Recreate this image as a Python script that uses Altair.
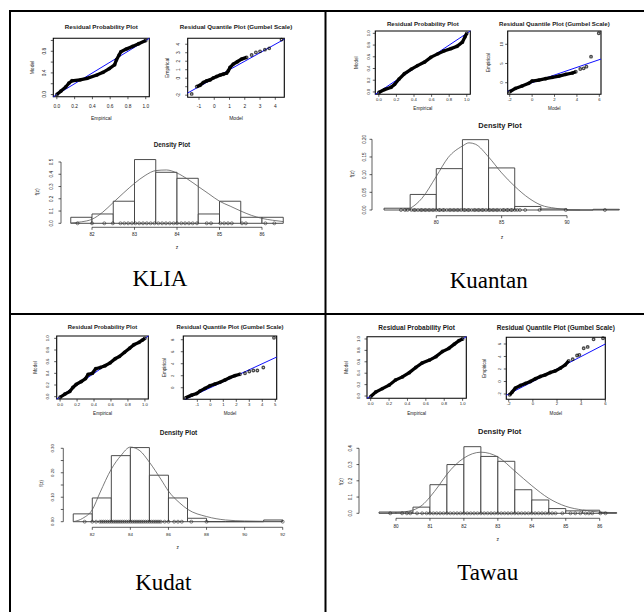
import altair as alt
import pandas as pd

# ======================= DATA =======================
# ---- KLIA ----
KLIA_PP_EMP = [0.0, 0.044, 0.10, 0.135, 0.17, 0.26, 0.34, 0.45, 0.52, 0.59, 0.65, 0.67, 0.70, 0.72, 0.78, 0.85, 0.92, 1.0]
KLIA_PP_MOD = [0.0, 0.06, 0.14, 0.21, 0.255, 0.27, 0.30, 0.36, 0.41, 0.48, 0.55, 0.64, 0.73, 0.79, 0.84, 0.89, 0.94, 1.0]
KLIA_QQ_MOD = [-1.15, -0.93, -0.72, -0.5, -0.28, -0.06, 0.16, 0.38, 0.59, 0.81, 0.92, 1.03, 1.25, 1.51, 1.79, 2.12]
KLIA_QQ_EMP = [-0.99, -0.83, -0.51, -0.32, -0.2, 0.04, 0.2, 0.36, 0.47, 0.59, 0.87, 1.26, 1.66, 1.94, 2.25, 2.45]
KLIA_QQ_ISO_MOD = [-1.48, 2.45, 2.73, 3.0, 3.32, 3.6, 4.41]
KLIA_QQ_ISO_EMP = [-1.85, 2.73, 3.04, 3.16, 3.36, 3.52, 4.55]
KLIA_BREAKS = [81.5, 82.0, 82.5, 83.0, 83.5, 84.0, 84.5, 85.0, 85.5, 86.0, 86.5]
KLIA_HIST = [0.049, 0.076, 0.18, 0.52, 0.416, 0.367, 0.076, 0.18, 0.049, 0.049]
KLIA_CURVE_Z = [81.5, 81.75, 82.0, 82.25, 82.5, 82.75, 83.0, 83.25, 83.5, 83.75, 84.0, 84.25, 84.5, 84.75, 85.0, 85.25, 85.5, 85.75, 86.0, 86.25, 86.5]
KLIA_CURVE_F = [0.003, 0.012, 0.033, 0.09, 0.17, 0.25, 0.326, 0.39, 0.43, 0.435, 0.41, 0.36, 0.30, 0.24, 0.18, 0.14, 0.10, 0.065, 0.04, 0.025, 0.014]
KLIA_RUG = [81.66, 82.0, 82.29, 82.49, 82.67, 82.76, 82.85, 82.94, 83.02, 83.11, 83.2, 83.29, 83.38, 83.47,
            83.56, 83.65, 83.74, 83.83, 83.92, 84.0, 84.1, 84.19, 84.28, 84.37, 84.47, 84.7, 84.8, 85.02,
            85.11, 85.2, 85.29, 85.53, 85.62, 86.08, 86.29]

# ---- Kuantan ----
KUANTAN_PP_EMP = [0.0, 0.064, 0.14, 0.18, 0.23, 0.29, 0.37, 0.44, 0.52, 0.59, 0.67, 0.74, 0.82, 0.89, 0.95, 0.98, 1.0]
KUANTAN_PP_MOD = [-0.01, 0.04, 0.08, 0.13, 0.22, 0.31, 0.39, 0.45, 0.51, 0.59, 0.65, 0.70, 0.74, 0.78, 0.85, 0.94, 1.0]
KUANTAN_QQ_MOD = [-2.0, -1.5, -0.9, -0.3, 0.0, 0.6, 1.2, 1.8, 2.4, 3.0, 3.6, 3.9]
KUANTAN_QQ_EMP = [-2.35, -1.48, -0.87, -0.17, 0.43, 0.7, 1.04, 1.39, 1.74, 2.17, 2.52, 2.87]
KUANTAN_QQ_ISO_MOD = [4.3, 4.6, 4.85, 5.26, 5.95]
KUANTAN_QQ_ISO_EMP = [3.57, 3.74, 4.17, 6.78, 12.87]
KUANTAN_BREAKS = [76, 78, 80, 82, 84, 86, 88, 90, 92, 94]
KUANTAN_HIST = [0.005, 0.044, 0.117, 0.199, 0.119, 0.010, 0.003, 0.0, 0.002]
KUANTAN_CURVE_Z = [77.6, 78.0, 78.9, 80.0, 80.9, 82.0, 82.5, 83.0, 84.0, 85.0, 86.0, 87.1, 88.0, 89.1, 90.0, 91.0]
KUANTAN_CURVE_F = [0.0, 0.005, 0.033, 0.095, 0.148, 0.181, 0.19, 0.186, 0.15, 0.105, 0.067, 0.033, 0.014, 0.005, 0.001, 0.0]
KUANTAN_RUG = [77.3, 77.6, 77.8, 78.1, 78.3, 78.4, 78.6, 78.8, 78.9, 79.1, 79.2, 79.4, 79.5, 79.7, 79.8, 80.0,
               80.2, 80.3, 80.5, 80.6, 80.8, 81.0, 81.1, 81.3, 81.4, 81.6, 81.7, 81.9, 82.1, 82.2, 82.4, 82.5,
               82.7, 82.9, 83.0, 83.2, 83.3, 83.5, 83.6, 83.8, 84.0, 84.1, 84.3, 84.4, 84.6, 84.7, 84.9, 85.1,
               85.2, 85.4, 85.5, 85.7, 85.8, 86.0, 86.2, 86.4, 86.8, 87.9, 89.9, 92.9]

# ---- Kudat ----
KUDAT_PP_EMP = [0.0, 0.057, 0.114, 0.15, 0.19, 0.25, 0.30, 0.33, 0.38, 0.42, 0.475, 0.53, 0.59, 0.65, 0.70, 0.76, 0.82, 0.87, 0.93, 0.97, 1.0]
KUDAT_PP_MOD = [-0.01, 0.045, 0.09, 0.157, 0.21, 0.26, 0.31, 0.38, 0.40, 0.48, 0.50, 0.53, 0.58, 0.65, 0.69, 0.76, 0.83, 0.89, 0.93, 0.97, 1.0]
KUDAT_QQ_MOD = [-1.9, -1.44, -1.05, -0.8, -0.41, -0.03, 0.36, 0.74, 1.13, 1.51, 1.9, 2.28]
KUDAT_QQ_EMP = [-1.69, -1.24, -0.96, -0.56, -0.11, 0.34, 0.62, 0.9, 1.29, 1.69, 2.02, 2.25]
KUDAT_QQ_ISO_MOD = [2.67, 3.0, 3.31, 3.62, 4.08, 4.9]
KUDAT_QQ_ISO_EMP = [2.42, 2.7, 2.87, 2.87, 3.37, 8.31]
KUDAT_BREAKS = [81, 82, 83, 84, 85, 86, 87, 88, 89, 90, 91, 92]
KUDAT_HIST = [0.032, 0.097, 0.27, 0.303, 0.19, 0.097, 0.014, 0.0, 0.0, 0.0, 0.007]
KUDAT_CURVE_Z = [81.0, 81.5, 82.0, 82.4, 83.0, 83.5, 84.0, 84.5, 85.0, 85.6, 86.0, 86.6, 87.0, 88.0, 89.0, 90.0, 92.0]
KUDAT_CURVE_F = [0.0, 0.014, 0.049, 0.118, 0.215, 0.27, 0.305, 0.29, 0.243, 0.174, 0.125, 0.076, 0.051, 0.021, 0.007, 0.003, 0.001]
KUDAT_RUG = [81.6, 82.0, 82.2, 82.4, 82.5, 82.6, 82.7, 82.8, 82.9, 83.0, 83.1, 83.2, 83.3, 83.4, 83.5, 83.6,
             83.7, 83.8, 83.9, 84.0, 84.1, 84.2, 84.3, 84.4, 84.5, 84.6, 84.7, 84.8, 84.9, 85.0, 85.1, 85.2,
             85.3, 85.4, 85.5, 85.6, 85.8, 86.0, 86.3, 86.5, 86.7, 87.2, 88.0, 92.0]

# ---- Tawau ----
TAWAU_PP_EMP = [0.0, 0.055, 0.127, 0.20, 0.27, 0.345, 0.42, 0.49, 0.56, 0.64, 0.71, 0.78, 0.85, 0.91, 0.96, 1.0]
TAWAU_PP_MOD = [-0.01, 0.07, 0.13, 0.19, 0.28, 0.335, 0.41, 0.50, 0.58, 0.63, 0.69, 0.78, 0.835, 0.91, 0.97, 1.0]
TAWAU_QQ_MOD = [-1.92, -1.72, -1.45, -1.03, -0.62, -0.21, 0.21, 0.62, 1.03, 1.45, 1.86, 2.28, 2.69, 2.97]
TAWAU_QQ_EMP = [-2.13, -1.7, -1.06, -0.64, -0.32, 0.0, 0.43, 0.8, 1.06, 1.44, 1.7, 2.13, 2.66, 3.3]
TAWAU_QQ_ISO_MOD = [3.3, 3.66, 3.85, 4.21, 4.54, 5.03, 5.81]
TAWAU_QQ_ISO_EMP = [3.56, 4.15, 4.26, 5.32, 5.53, 6.76, 6.91]
TAWAU_BREAKS = [79.5, 80.0, 80.5, 81.0, 81.5, 82.0, 82.5, 83.0, 83.5, 84.0, 84.5, 85.0, 85.5, 86.0, 86.5]
TAWAU_HIST = [0.008, 0.008, 0.038, 0.176, 0.30, 0.41, 0.35, 0.32, 0.145, 0.082, 0.029, 0.015, 0.019, 0.004]
TAWAU_CURVE_Z = [79.5, 80.0, 80.5, 80.77, 81.0, 81.26, 81.5, 82.0, 82.5, 83.0, 83.5, 84.0, 84.5, 85.0, 85.5, 86.0, 86.5]
TAWAU_CURVE_F = [0.001, 0.004, 0.02, 0.05, 0.10, 0.17, 0.24, 0.34, 0.376, 0.347, 0.26, 0.17, 0.092, 0.043, 0.02, 0.008, 0.004]
TAWAU_RUG = [79.83, 80.18, 80.32, 80.42, 80.62, 80.77, 80.9, 81.0, 81.1, 81.2, 81.3, 81.4, 81.5, 81.6, 81.7,
             81.8, 81.9, 82.0, 82.1, 82.2, 82.3, 82.4, 82.5, 82.6, 82.7, 82.8, 82.9, 83.0, 83.1, 83.2, 83.3,
             83.4, 83.5, 83.6, 83.7, 83.8, 83.9, 84.0, 84.1, 84.2, 84.3, 84.4, 84.5, 84.6, 84.7, 84.9, 85.14,
             85.28, 85.43, 85.58, 85.68, 85.78, 86.02, 86.17]

# ---- tick values / labels ----
P_TICKS = [0.0, 0.2, 0.4, 0.6, 0.8, 1.0]
P_LABELS = ["0.0", "0.2", "0.4", "0.6", "0.8", "1.0"]
KLIA_PP_YLAB_V = [0.0, 0.4, 0.8]
KLIA_PP_YLAB = ["0.0", "0.4", "0.8"]
KLIA_QQ_XT = [-1, 0, 1, 2, 3, 4]
KLIA_QQ_YT = [-2, -1, 0, 1, 2, 3, 4]
KLIA_QQ_YLAB_V = [-2, 0, 1, 2, 3, 4]
KLIA_DEN_XT = [82, 83, 84, 85, 86]
KLIA_DEN_YT = [0.0, 0.1, 0.2, 0.3, 0.4, 0.5]
KLIA_DEN_YLAB = ["0.0", "0.1", "0.2", "0.3", "0.4", "0.5"]
KUANTAN_QQ_XT = [-2, 0, 2, 4, 6]
KUANTAN_QQ_YT = [0, 5, 10]
KUANTAN_DEN_XT = [80, 85, 90]
KUANTAN_DEN_YT = [0.0, 0.05, 0.10, 0.15, 0.20]
KUANTAN_DEN_YLAB = ["0.00", "0.05", "0.10", "0.15", "0.20"]
KUDAT_QQ_XT = [-1, 0, 1, 2, 3, 4, 5]
KUDAT_QQ_YT = [0, 2, 4, 6, 8]
KUDAT_DEN_XT = [82, 84, 86, 88, 90, 92]
KUDAT_DEN_YT = [0.0, 0.05, 0.10, 0.15, 0.20, 0.25, 0.30]
KUDAT_DEN_YLAB_V = [0.0, 0.10, 0.20, 0.30]
KUDAT_DEN_YLAB = ["0.00", "0.10", "0.20", "0.30"]
TAWAU_QQ_XT = [-2, 0, 2, 4, 6]
TAWAU_QQ_YT = [-2, 0, 2, 4, 6]
TAWAU_DEN_XT = [80, 81, 82, 83, 84, 85, 86]
TAWAU_DEN_YT = [0.0, 0.1, 0.2, 0.3, 0.4]
TAWAU_DEN_YLAB = ["0.0", "0.1", "0.2", "0.3", "0.4"]

T_PP = "Residual Probability Plot"
T_QQ = "Residual Quantile Plot (Gumbel Scale)"
T_DEN = "Density Plot"

# ======================= HELPERS =======================
SANS = "Liberation Sans"
SERIF = "Liberation Serif"
INK = "#1a1a1a"


def sc(dom, rng):
    return alt.Scale(domain=list(dom), range=list(rng), nice=False, zero=False)


def txt(s, x, y, size, bold=False, angle=0, font=SANS, baseline="middle", color=INK):
    kw = dict(fontSize=size, font=font, baseline=baseline, align="center", color=color)
    if bold:
        kw["fontWeight"] = "bold"
    if angle:
        kw["angle"] = angle
    return alt.Chart(pd.DataFrame({"t": [s]})).mark_text(**kw).encode(
        x=alt.value(x), y=alt.value(y), text="t:N")


def diag(L, bx, by, ix, iy, xt, xlv, xlab, yt, ylv, ylab, title, xtitle, ytitle):
    x0, x1, y0, y1 = L["box"]
    sx = sc(L["xd"], [x0, x1])
    sy = sc(L["yd"], [y1, y0])
    X = lambda f: alt.X(f, scale=sx, axis=None)
    Y = lambda f: alt.Y(f, scale=sy, axis=None)
    fs = L["fs"]
    out = []
    frame = pd.DataFrame({"a": [L["xd"][0]], "b": [L["xd"][1]], "c": [L["yd"][0]], "d": [L["yd"][1]]})
    out.append(alt.Chart(frame).mark_rect(fill="white", stroke="black", strokeWidth=1.1).encode(
        x=X("a:Q"), x2="b:Q", y=Y("c:Q"), y2="d:Q"))
    lo = max(L["xd"][0], L["yd"][0])
    hi = min(L["xd"][1], L["yd"][1])
    out.append(alt.Chart(pd.DataFrame({"a": [lo, hi]})).mark_line(color="#1010ff", strokeWidth=1).encode(
        x=X("a:Q"), y=Y("a:Q")))
    band = pd.DataFrame({"m": bx, "e": by})
    out.append(alt.Chart(band).mark_line(color="black", strokeWidth=3.3).encode(
        x=X("m:Q"), y=Y("e:Q"), order="m:Q"))
    pts = pd.DataFrame({"m": list(bx) + list(ix), "e": list(by) + list(iy)})
    out.append(alt.Chart(pts).mark_point(shape="circle", filled=False, color="black", size=6, strokeWidth=1.4).encode(
        x=X("m:Q"), y=Y("e:Q")))
    # x ticks / labels
    out.append(alt.Chart(pd.DataFrame({"v": xt})).mark_rule(color=INK, strokeWidth=0.7).encode(
        x=X("v:Q"), y=alt.value(y1), y2=alt.value(y1 + 2.5)))
    out.append(alt.Chart(pd.DataFrame({"v": xlv, "l": xlab})).mark_text(
        fontSize=fs, font=SANS, color=INK, baseline="middle", align="center").encode(
        x=X("v:Q"), y=alt.value(L["xly"]), text="l:N"))
    # y ticks / labels
    out.append(alt.Chart(pd.DataFrame({"v": yt})).mark_rule(color=INK, strokeWidth=0.7).encode(
        y=Y("v:Q"), x=alt.value(x0 - 2.5), x2=alt.value(x0)))
    out.append(alt.Chart(pd.DataFrame({"v": ylv, "l": ylab})).mark_text(
        fontSize=fs, font=SANS, color=INK, baseline="middle", align="center", angle=270).encode(
        y=Y("v:Q"), x=alt.value(L["ylx"]), text="l:N"))
    out.append(txt(title, (x0 + x1) / 2, L["ty"], L["tfs"], bold=True))
    out.append(txt(xtitle, (x0 + x1) / 2, L["xty"], L["afs"]))
    out.append(txt(ytitle, L["ytx"], (y0 + y1) / 2, L["afs"], angle=270))
    return out


def density(L, breaks, hist, cz, cf, rug, xt, yt, ylv, ylab, name):
    sx = sc(L["xd"], L["xr"])
    sy = sc(L["yd"], L["yr"])
    X = lambda f: alt.X(f, scale=sx, axis=None)
    Y = lambda f: alt.Y(f, scale=sy, axis=None)
    fs = L["fs"]
    out = []
    bars = pd.DataFrame({"lo": breaks[:-1], "hi": breaks[1:], "h": hist, "z0": [0.0] * len(hist)})
    out.append(alt.Chart(bars).mark_rect(fill="white", stroke="#3a3a3a", strokeWidth=0.9).encode(
        x=X("lo:Q"), x2="hi:Q", y=Y("z0:Q"), y2="h:Q"))
    out.append(alt.Chart(pd.DataFrame({"z": cz, "f": cf})).mark_line(
        color="#5a5a5a", strokeWidth=0.8, interpolate="monotone").encode(x=X("z:Q"), y=Y("f:Q"), order="z:Q"))
    out.append(alt.Chart(pd.DataFrame({"z": rug, "f": [0.0] * len(rug)})).mark_point(
        shape="circle", filled=False, color="#222222", size=9, strokeWidth=0.8).encode(x=X("z:Q"), y=Y("f:Q")))
    # x axis
    ay = L["axy"]
    out.append(alt.Chart(pd.DataFrame({"a": [xt[0]], "b": [xt[-1]]})).mark_rule(color=INK, strokeWidth=0.7).encode(
        x=X("a:Q"), x2="b:Q", y=alt.value(ay)))
    out.append(alt.Chart(pd.DataFrame({"v": xt})).mark_rule(color=INK, strokeWidth=0.7).encode(
        x=X("v:Q"), y=alt.value(ay), y2=alt.value(ay + 2.5)))
    out.append(alt.Chart(pd.DataFrame({"v": xt, "l": [str(v) for v in xt]})).mark_text(
        fontSize=fs, font=SANS, color=INK, baseline="middle", align="center").encode(
        x=X("v:Q"), y=alt.value(L["xly"]), text="l:N"))
    # y axis
    ax = L["axx"]
    out.append(alt.Chart(pd.DataFrame({"a": [yt[0]], "b": [yt[-1]]})).mark_rule(color=INK, strokeWidth=0.7).encode(
        y=Y("a:Q"), y2="b:Q", x=alt.value(ax)))
    out.append(alt.Chart(pd.DataFrame({"v": yt})).mark_rule(color=INK, strokeWidth=0.7).encode(
        y=Y("v:Q"), x=alt.value(ax - 2.5), x2=alt.value(ax)))
    out.append(alt.Chart(pd.DataFrame({"v": ylv, "l": ylab})).mark_text(
        fontSize=fs, font=SANS, color=INK, baseline="middle", align="center", angle=270).encode(
        y=Y("v:Q"), x=alt.value(L["ylx"]), text="l:N"))
    out.append(txt(T_DEN, L["title"][0], L["title"][1], L["tfs"], bold=True))
    out.append(txt("z", L["zlab"][0], L["zlab"][1], L["afs"]))
    out.append(txt("f(z)", L["flab"][0], L["flab"][1], L["afs"], angle=270))
    out.append(txt(name, L["name"][0], L["name"][1], 23, font=SERIF, baseline="alphabetic", color="black"))
    return out


# ======================= LAYOUT (pixels) =======================
LAY = {
    "KLIA": {
        "pp": dict(box=(53.3, 149.3, 38.3, 96.7), xd=(-0.04, 1.04), yd=(-0.04, 1.04), fs=4.8, tfs=6.2, afs=5.0,
                   xly=107, ylx=45, ty=27, xty=118, ytx=32),
        "qq": dict(box=(187.7, 284.3, 38.3, 97.3), xd=(-1.74, 4.59), yd=(-2.25, 4.7), fs=4.8, tfs=6.2, afs=5.0,
                   xly=107, ylx=179, ty=27, xty=118, ytx=167),
        "den": dict(xd=(81, 87), xr=(49.5, 304.5), yd=(0, 0.5), yr=(223.3, 162), fs=4.6, tfs=6.3, afs=5.0,
                    axy=227.3, xly=235, axx=61, ylx=52, title=(172, 145), zlab=(177, 247), flab=(37, 192),
                    name=(160, 285.5)),
    },
    "Kuantan": {
        "pp": dict(box=(375.3, 470.3, 31, 94.3), xd=(-0.04, 1.04), yd=(-0.04, 1.04), fs=4.2, tfs=6.1, afs=4.6,
                   xly=100, ylx=368.7, ty=24, xty=109, ytx=357),
        "qq": dict(box=(507.7, 601, 31, 94.3), xd=(-2.18, 6.15), yd=(-3.02, 13.46), fs=4.2, tfs=6.1, afs=4.6,
                   xly=100, ylx=502, ty=24, xty=109, ytx=488.7),
        "den": dict(xd=(76, 94), xr=(384.0, 619.3), yd=(0, 0.2), yr=(210, 139.3), fs=4.6, tfs=7.5, afs=5.0,
                    axy=215.7, xly=223.3, axx=372, ylx=364.7, title=(500, 126), zlab=(502, 236.7),
                    flab=(352, 174), name=(488.7, 288.3)),
    },
    "Kudat": {
        "pp": dict(box=(56.7, 148.3, 336, 399), xd=(-0.04, 1.04), yd=(-0.04, 1.04), fs=4.2, tfs=5.9, afs=4.6,
                   xly=404.5, ylx=47.7, ty=327.3, xty=414, ytx=36),
        "qq": dict(box=(183.3, 276.7, 336, 399.3), xd=(-2.08, 5.11), yd=(-1.93, 8.62), fs=4.2, tfs=5.9, afs=4.6,
                   xly=404.5, ylx=173.3, ty=327.3, xty=414, ytx=165),
        "den": dict(xd=(80, 94), xr=(54.2, 320.8), yd=(0, 0.3), yr=(521.7, 448.3), fs=4.4, tfs=6.5, afs=4.8,
                    axy=527.3, xly=535, axx=63.3, ylx=53.3, title=(178.5, 433.3), zlab=(177.7, 548.3),
                    flab=(41.7, 483.3), name=(163.3, 590)),
    },
    "Tawau": {
        "pp": dict(box=(367, 466.3, 336.7, 398.3), xd=(-0.04, 1.04), yd=(-0.04, 1.04), fs=4.2, tfs=6.5, afs=4.6,
                   xly=404.3, ylx=358.7, ty=327.7, xty=414.3, ytx=347),
        "qq": dict(box=(506.3, 605.3, 337.3, 399.3), xd=(-2.2, 6.0), yd=(-2.85, 7.07), fs=4.2, tfs=6.5, afs=4.6,
                   xly=404.3, ylx=500.3, ty=327.7, xty=414.3, ytx=485.3),
        "den": dict(xd=(79, 87), xr=(362.05, 633.65), yd=(0, 0.4), yr=(513.3, 448.3), fs=4.6, tfs=7.5, afs=5.0,
                    axy=518.3, xly=527.3, axx=359, ylx=351.3, title=(499.7, 431.7), zlab=(497.7, 539.3),
                    flab=(341.3, 481.7), name=(487.7, 580)),
    },
}

layers = []
# KLIA
L = LAY["KLIA"]
layers += diag(L["pp"], KLIA_PP_EMP, KLIA_PP_MOD, [], [], P_TICKS, P_TICKS, P_LABELS, P_TICKS,
               KLIA_PP_YLAB_V, KLIA_PP_YLAB, T_PP, "Empirical", "Model")
layers += diag(L["qq"], KLIA_QQ_MOD, KLIA_QQ_EMP, KLIA_QQ_ISO_MOD, KLIA_QQ_ISO_EMP, KLIA_QQ_XT, KLIA_QQ_XT,
               [str(v) for v in KLIA_QQ_XT], KLIA_QQ_YT, KLIA_QQ_YLAB_V, [str(v) for v in KLIA_QQ_YLAB_V],
               T_QQ, "Model", "Empirical")
layers += density(L["den"], KLIA_BREAKS, KLIA_HIST, KLIA_CURVE_Z, KLIA_CURVE_F, KLIA_RUG, KLIA_DEN_XT,
                  KLIA_DEN_YT, KLIA_DEN_YT, KLIA_DEN_YLAB, "KLIA")
# Kuantan
L = LAY["Kuantan"]
layers += diag(L["pp"], KUANTAN_PP_EMP, KUANTAN_PP_MOD, [], [], P_TICKS, P_TICKS, P_LABELS, P_TICKS,
               P_TICKS, P_LABELS, T_PP, "Empirical", "Model")
layers += diag(L["qq"], KUANTAN_QQ_MOD, KUANTAN_QQ_EMP, KUANTAN_QQ_ISO_MOD, KUANTAN_QQ_ISO_EMP, KUANTAN_QQ_XT,
               KUANTAN_QQ_XT, [str(v) for v in KUANTAN_QQ_XT], KUANTAN_QQ_YT, KUANTAN_QQ_YT,
               [str(v) for v in KUANTAN_QQ_YT], T_QQ, "Model", "Empirical")
layers += density(L["den"], KUANTAN_BREAKS, KUANTAN_HIST, KUANTAN_CURVE_Z, KUANTAN_CURVE_F, KUANTAN_RUG,
                  KUANTAN_DEN_XT, KUANTAN_DEN_YT, KUANTAN_DEN_YT, KUANTAN_DEN_YLAB, "Kuantan")
# Kudat
L = LAY["Kudat"]
layers += diag(L["pp"], KUDAT_PP_EMP, KUDAT_PP_MOD, [], [], P_TICKS, P_TICKS, P_LABELS, P_TICKS,
               P_TICKS, P_LABELS, T_PP, "Empirical", "Model")
layers += diag(L["qq"], KUDAT_QQ_MOD, KUDAT_QQ_EMP, KUDAT_QQ_ISO_MOD, KUDAT_QQ_ISO_EMP, KUDAT_QQ_XT,
               KUDAT_QQ_XT, [str(v) for v in KUDAT_QQ_XT], KUDAT_QQ_YT, KUDAT_QQ_YT,
               [str(v) for v in KUDAT_QQ_YT], T_QQ, "Model", "Empirical")
layers += density(L["den"], KUDAT_BREAKS, KUDAT_HIST, KUDAT_CURVE_Z, KUDAT_CURVE_F, KUDAT_RUG,
                  KUDAT_DEN_XT, KUDAT_DEN_YT, KUDAT_DEN_YLAB_V, KUDAT_DEN_YLAB, "Kudat")
# Tawau
L = LAY["Tawau"]
layers += diag(L["pp"], TAWAU_PP_EMP, TAWAU_PP_MOD, [], [], P_TICKS, P_TICKS, P_LABELS, P_TICKS,
               P_TICKS, P_LABELS, T_PP, "Empirical", "Model")
layers += diag(L["qq"], TAWAU_QQ_MOD, TAWAU_QQ_EMP, TAWAU_QQ_ISO_MOD, TAWAU_QQ_ISO_EMP, TAWAU_QQ_XT,
               TAWAU_QQ_XT, [str(v) for v in TAWAU_QQ_XT], TAWAU_QQ_YT, TAWAU_QQ_YT,
               [str(v) for v in TAWAU_QQ_YT], T_QQ, "Model", "Empirical")
layers += density(L["den"], TAWAU_BREAKS, TAWAU_HIST, TAWAU_CURVE_Z, TAWAU_CURVE_F, TAWAU_RUG,
                  TAWAU_DEN_XT, TAWAU_DEN_YT, TAWAU_DEN_YT, TAWAU_DEN_YLAB, "Tawau")

# table grid lines
one = pd.DataFrame({"k": [0]})
layers.append(alt.Chart(one).mark_rule(color="black", strokeWidth=2).encode(
    x=alt.value(10), y=alt.value(10), y2=alt.value(612)))
layers.append(alt.Chart(one).mark_rule(color="black", strokeWidth=2).encode(
    x=alt.value(325.5), y=alt.value(10), y2=alt.value(612)))
layers.append(alt.Chart(one).mark_rule(color="black", strokeWidth=2).encode(
    y=alt.value(11), x=alt.value(9), x2=alt.value(644)))
layers.append(alt.Chart(one).mark_rule(color="black", strokeWidth=2).encode(
    y=alt.value(314), x=alt.value(9), x2=alt.value(644)))

chart = alt.layer(*layers).resolve_scale(x="independent", y="independent").properties(
    width=644, height=612, padding=0, autosize=alt.AutoSizeParams(type="none"), background="white"
).configure_view(strokeWidth=0)

chart.save("out.html", embed_options={"renderer": "svg", "actions": False})
